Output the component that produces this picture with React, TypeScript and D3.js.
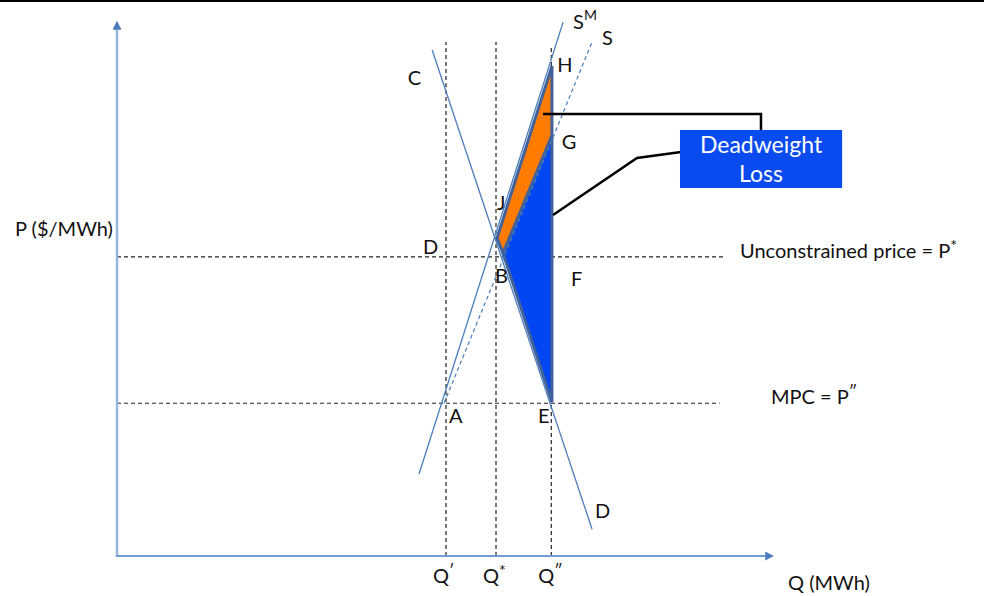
import React, { useEffect, useRef } from 'react'
import * as d3 from 'd3'

const width = 984
const height = 596

// quantities on the Q axis and prices on the P axis, in units of 0-100
const qNames = ['Q′', 'Q*', 'Q″']
const qValues = [50, 57.6, 66]
const qLineTops = [95.9, 95.9, 95]

const priceNames = ['Unconstrained price = P', 'MPC = P']
const priceMarks = ['*', '″']
const priceValues = [55.8, 28.5]
const priceLineEnds = [92.4, 91.6]

// curves: demand (C-D), market supply S^M, supply S
const demand: [number, number][] = [[47.9, 94.4], [72.2, 5.0]]
const supplyMarket: [number, number][] = [[45.9, 15.3], [67.8, 99.6]]
const supply: [number, number][] = [[49.7, 28.5], [72.2, 95.9]]

// deadweight loss areas
const orangeArea: [number, number][] = [[57.75, 59.3], [66.1, 91.4], [66.1, 78.5], [58.66, 56.5]]
const blueArea: [number, number][] = [[58.66, 56.5], [66.1, 78.5], [66.1, 28.7]]

// point labels
const pointNames = ['C', 'H', 'G', 'J', 'D', 'B', 'F', 'A', 'E', 'D']
const pointQ = [44.2, 66.9, 67.6, 57.75, 46.5, 57.45, 69.0, 50.45, 64.0, 72.64]
const pointP = [87.9, 90.3, 75.9, 64.55, 56.3, 50.9, 50.4, 24.8, 24.8, 7.09]

// callout
const calloutTop: [number, number][] = [[64.74, 82.46], [97.87, 82.46], [97.87, 79.48]]
const calloutBottom: [number, number][] = [[66.26, 63.62], [79.03, 74.25], [85.71, 75.37]]
const boxCorners: [number, number][] = [[85.56, 79.48], [110.2, 68.66]]
const boxText = ['Deadweight', 'Loss']

const font = 'Lato, "Open Sans", sans-serif'

export default function App() {
  const ref = useRef<SVGSVGElement>(null)

  useEffect(() => {
    const svg = d3.select(ref.current)
    svg.selectAll('*').remove()

    const x = d3.scaleLinear().domain([0, 100]).range([117, 775])
    const y = d3.scaleLinear().domain([0, 100]).range([556, 20])
    const line = d3
      .line<[number, number]>()
      .x(d => x(d[0]))
      .y(d => y(d[1]))

    // arrow head
    svg
      .append('defs')
      .append('marker')
      .attr('id', 'arrow')
      .attr('viewBox', '0 0 10 10')
      .attr('refX', 2)
      .attr('refY', 5)
      .attr('markerWidth', 9)
      .attr('markerHeight', 9)
      .attr('markerUnits', 'userSpaceOnUse')
      .attr('orient', 'auto')
      .append('path')
      .attr('d', 'M0,0 L10,5 L0,10 Z')
      .attr('fill', '#4a7ebb')

    // top border
    svg.append('rect').attr('x', 0).attr('y', 0).attr('width', width).attr('height', 2).attr('fill', '#000')

    // dashed guides
    const guides = svg.append('g').attr('stroke', '#222').attr('stroke-width', 1.2).attr('stroke-dasharray', '4 3')
    qValues.forEach((q, i) => {
      guides.append('line').attr('x1', x(q)).attr('x2', x(q)).attr('y1', y(0)).attr('y2', y(qLineTops[i]))
    })
    priceValues.forEach((p, i) => {
      guides.append('line').attr('x1', x(0)).attr('x2', x(priceLineEnds[i])).attr('y1', y(p)).attr('y2', y(p))
    })

    // areas
    svg
      .append('path')
      .attr('d', line(blueArea) + 'Z')
      .attr('fill', '#0046f2')
      .attr('stroke', '#40619a')
      .attr('stroke-width', 3)
    svg
      .append('path')
      .attr('d', line(orangeArea) + 'Z')
      .attr('fill', '#ff7c00')
      .attr('stroke', '#40619a')
      .attr('stroke-width', 3)

    // curves
    svg.append('path').attr('d', line(demand)).attr('fill', 'none').attr('stroke', '#4a7ebb').attr('stroke-width', 1.3)
    svg.append('path').attr('d', line(supplyMarket)).attr('fill', 'none').attr('stroke', '#4a7ebb').attr('stroke-width', 1.3)
    svg
      .append('path')
      .attr('d', line(supply))
      .attr('fill', 'none')
      .attr('stroke', '#4a7ebb')
      .attr('stroke-width', 1.2)
      .attr('stroke-dasharray', '4 3')

    // axes
    svg
      .append('line')
      .attr('x1', x(0))
      .attr('x2', x(0))
      .attr('y1', y(0) + 1)
      .attr('y2', y(100) + 8)
      .attr('stroke', '#98b7dc')
      .attr('stroke-width', 2.5)
      .attr('marker-end', 'url(#arrow)')
    svg
      .append('line')
      .attr('x1', x(0) - 1)
      .attr('x2', x(100) - 8)
      .attr('y1', y(0))
      .attr('y2', y(0))
      .attr('stroke', '#6d9dd5')
      .attr('stroke-width', 2)
      .attr('marker-end', 'url(#arrow)')

    const text = svg.append('g').attr('font-family', font).attr('font-size', 20).attr('fill', '#111')

    // axis titles
    text.append('text').attr('x', 15).attr('y', 236).text('P ($/MWh)')
    text.append('text').attr('x', 788).attr('y', 590).text('Q (MWh)')

    // quantity ticks
    qValues.forEach((q, i) => {
      const t = text.append('text').attr('x', x(q) - 13).attr('y', 583)
      t.append('tspan').text(qNames[i][0])
      t.append('tspan').attr('font-size', 16).attr('dy', -7).text(qNames[i].slice(1))
    })

    // price labels
    priceValues.forEach((p, i) => {
      const t = text
        .append('text')
        .attr('x', i === 0 ? 740 : 771)
        .attr('y', y(p) + 1)
      t.append('tspan').text(priceNames[i])
      t.append('tspan').attr('font-size', 16).attr('dy', -7).text(priceMarks[i])
    })

    // point labels
    pointNames.forEach((n, i) => {
      text.append('text').attr('x', x(pointQ[i])).attr('y', y(pointP[i])).text(n)
    })

    // curve names
    const sm = text.append('text').attr('x', x(supplyMarket[1][0]) + 10).attr('y', 29)
    sm.append('tspan').text('S')
    sm.append('tspan').attr('font-size', 14).attr('dy', -9).text('M')
    text.append('text').attr('x', x(supply[1][0]) + 10).attr('y', 45).text('S')

    // callout
    const call = svg.append('g').attr('fill', 'none').attr('stroke', '#000').attr('stroke-width', 2.5)
    call.append('path').attr('d', line(calloutTop))
    call.append('path').attr('d', line(calloutBottom))

    const bx = x(boxCorners[0][0])
    const by = y(boxCorners[0][1])
    const bw = x(boxCorners[1][0]) - bx
    const bh = y(boxCorners[1][1]) - by
    svg.append('rect').attr('x', bx).attr('y', by).attr('width', bw).attr('height', bh).attr('fill', '#0a4bf0')
    boxText.forEach((s, i) => {
      svg
        .append('text')
        .attr('x', bx + bw / 2)
        .attr('y', by + 23 + i * 29)
        .attr('text-anchor', 'middle')
        .attr('font-family', font)
        .attr('font-size', 23)
        .attr('fill', '#fff')
        .text(s)
    })
  }, [])

  return (
    <svg
      ref={ref}
      width={width}
      height={height}
      style={{ position: 'absolute', left: 0, top: 0, background: '#fff' }}
    />
  )
}
